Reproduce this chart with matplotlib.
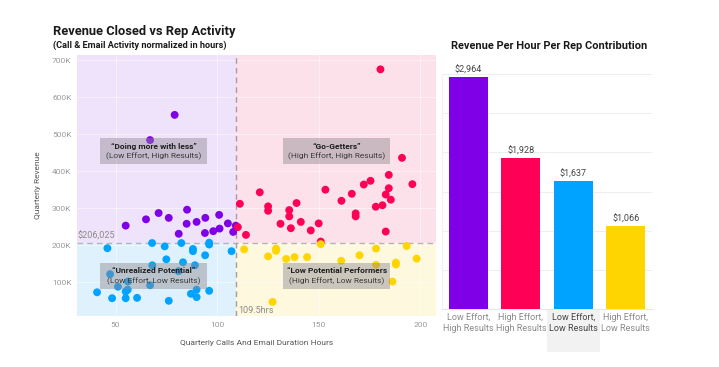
import matplotlib
matplotlib.use("Agg")
import matplotlib.pyplot as plt
import matplotlib.transforms as mtransforms
from matplotlib import font_manager
from matplotlib.patches import Rectangle
from matplotlib.ticker import FuncFormatter, MultipleLocator

# pick a narrow face if one is installed
names = {f.name for f in font_manager.fontManager.ttflist}
FONT = "Liberation Sans Narrow" if "Liberation Sans Narrow" in names else "Roboto"
plt.rcParams["font.family"] = [FONT, "DejaVu Sans"]

# ---- data: scatter, one group per quadrant (hours, revenue in K) ----
purple_x = [55.0, 65.0, 71.2, 76.2, 85.2, 85.0, 81.1, 89.9, 94.2, 94.0, 98.1, 101.0,
            101.2, 105.3, 107.9, 109.2, 79.1, 67.0]
purple_y = [253, 270, 287, 274, 296, 258, 231, 263, 274, 233, 238, 282,
            245, 259, 236, 253, 552, 484]

red_x = [180.4, 191.0, 184.5, 196.1, 175.5, 172.2, 184.5, 183.0, 185.5, 181.4, 178.1,
         166.3, 161.2, 153.3, 168.2, 168.2, 150.0, 146.1, 141.2, 139.1, 135.5, 135.5,
         136.3, 131.2, 125.1, 125.1, 121.0, 111.2, 110.2, 114.2, 183.0, 151.0]
red_y = [675, 436, 390, 365, 374, 364, 354, 337, 323, 308, 304,
         339, 320, 350, 286, 278, 259, 240, 263, 314, 295, 278,
         246, 258, 305, 293, 343, 312, 249, 228, 237, 210]

blue_x = [46.0, 68.0, 74.2, 82.4, 75.0, 83.2, 68.1, 88.1, 88.1, 94.1, 96.1, 96.1,
          89.1, 107.1, 47.3, 40.9, 48.3, 55.0, 55.0, 56.0, 51.2, 56.1, 60.6, 67.0,
          76.2, 87.1, 89.9, 89.9, 96.1, 81.0]
blue_y = [192, 206, 197, 206, 162, 154, 146, 190, 184, 173, 207, 202,
          146, 184, 122, 73, 57, 57, 75, 80, 88, 102, 58, 92,
          50, 69, 60, 80, 77, 130]

yellow_x = [113.3, 125.1, 129.0, 129.0, 134.0, 138.1, 144.3, 151.0, 161.1, 170.1,
            178.2, 178.2, 188.0, 188.0, 193.3, 198.2, 186.3, 127.3]
yellow_y = [189, 170, 191, 185, 163, 168, 168, 203, 158, 173,
            191, 147, 153, 148, 198, 164, 102, 47]

median_hours = 109.5
median_revenue = 206025

# ---- data: bar chart ----
bar_labels = ["Low Effort,\nHigh Results", "High Effort,\nHigh Results",
              "Low Effort,\nLow Results", "High Effort,\nLow Results"]
bar_values = [2964, 1928, 1637, 1066]

quad_names = ["\u201cDoing more with less\u201d", "\u201cGo-Getters\u201d",
              "\u201cUnrealized Potential\u201d", "\u201cLow Potential Performers"]
quad_subs = ["(Low Effort, High Results)", "(High Effort, High Results)",
             "(Low Effort, Low Results)", "(High Effort, Low Results)"]

PURPLE, RED, BLUE, YELLOW = "#7f00e6", "#ff0057", "#00a3ff", "#ffd500"
BG = ["#efe3fc", "#fde1ea", "#dff1fd", "#fdf8de"]

fig = plt.figure(figsize=(7.19, 3.67), dpi=100)
fig.patch.set_facecolor("white")

# ---------------- scatter ----------------
ax = fig.add_axes([0.107, 0.139, 0.499, 0.711])
x0, x1 = 31, 207.6
y0, y1 = 9000, 713600
ax.set_xlim(x0, x1)
ax.set_ylim(y0, y1)

# quadrant backgrounds
ax.add_patch(Rectangle((x0, median_revenue), median_hours - x0, y1 - median_revenue,
                       color=BG[0], zorder=0, lw=0))
ax.add_patch(Rectangle((median_hours, median_revenue), x1 - median_hours, y1 - median_revenue,
                       color=BG[1], zorder=0, lw=0))
ax.add_patch(Rectangle((x0, y0), median_hours - x0, median_revenue - y0,
                       color=BG[2], zorder=0, lw=0))
ax.add_patch(Rectangle((median_hours, y0), x1 - median_hours, median_revenue - y0,
                       color=BG[3], zorder=0, lw=0))

ax.grid(True, color="white", alpha=0.5, lw=0.7, zorder=0.5)
ax.set_axisbelow(True)
for s in ax.spines.values():
    s.set_visible(False)

k = 1000
for xs, ys, c in [(purple_x, purple_y, PURPLE), (red_x, red_y, RED),
                  (blue_x, blue_y, BLUE), (yellow_x, yellow_y, YELLOW)]:
    ax.scatter(xs, [v * k for v in ys], s=32, color=c, edgecolors="none", zorder=3)

ax.axhline(median_revenue, color="#b5b5b5", ls=(0, (4, 3)), lw=1.0, zorder=2)
ax.axvline(median_hours, color="#a89aa0", ls=(0, (4, 3)), lw=1.0, zorder=2)
ax.text(x0 + 0.5, median_revenue + 6000, "$206,025", fontsize=6.5, color="#8a8a8a",
        va="bottom", ha="left", zorder=4)
ax.text(median_hours + 0.8, y0 + 4000, "109.5hrs", fontsize=6.5, color="#8a8a8a",
        va="bottom", ha="left", zorder=4)

# quadrant labels
box_w, box_h = 52.6, 70000
centers = [(68.7, 454000), (158.7, 454000), (68.7, 117000), (158.9, 117000)]
for (cx, cy), nm, sub in zip(centers, quad_names, quad_subs):
    ax.add_patch(Rectangle((cx - box_w / 2, cy - box_h / 2), box_w, box_h,
                           facecolor="#8f8a92", alpha=0.45, lw=0, zorder=5))
    ax.annotate(nm, (cx, cy), xytext=(0, 3.6), textcoords="offset points",
                ha="center", va="center", fontsize=6, fontweight="bold",
                color="#1e1e1e", zorder=6)
    ax.annotate(sub, (cx, cy), xytext=(0, -3.8), textcoords="offset points",
                ha="center", va="center", fontsize=6, color="#3a3a3a", zorder=6)

ax.xaxis.set_major_locator(MultipleLocator(50))
ax.yaxis.set_major_locator(MultipleLocator(100000))
ax.yaxis.set_major_formatter(FuncFormatter(lambda v, p: f"{int(v / 1000)}K"))
ax.tick_params(length=0, labelsize=6, labelcolor="#9a9a9a", pad=4)
ax.set_xlabel("Quarterly Calls And Email Duration Hours", fontsize=6, color="#555555",
              labelpad=9)
ax.set_ylabel("Quarterly Revenue", fontsize=6, color="#555555", labelpad=8)

fig.text(53 / 719, 1 - 32 / 367, "Revenue Closed vs Rep Activity", fontsize=9.3,
         fontweight="bold", color="#1a1a1a", ha="left", va="center")
fig.text(53 / 719, 1 - 45.5 / 367, "(Call & Email Activity normalized in hours)",
         fontsize=6.6, fontweight="bold", color="#1a1a1a", ha="left", va="center")

# ---------------- bars ----------------
bx = fig.add_axes([0.615, 0.158, 0.292, 0.640])
pos = range(len(bar_values))
bars = bx.bar(pos, bar_values, width=0.745, color=[PURPLE, RED, BLUE, YELLOW], zorder=3)
bx.set_xlim(-0.5, 3.5)
bx.set_ylim(0, 3000)
bx.yaxis.set_major_locator(MultipleLocator(500))
bx.grid(axis="y", color="#eeeeee", lw=0.7, zorder=0)
bx.set_yticklabels([])
bx.tick_params(axis="y", length=0)
bx.tick_params(axis="x", length=0, pad=3)
bx.set_xticks(list(pos))
bx.set_xticklabels(bar_labels, fontsize=6.5, color="#8a8a8a", linespacing=1.3)
bx.get_xticklabels()[2].set_color("#444444")
for s in ["top", "right"]:
    bx.spines[s].set_visible(False)
bx.spines["left"].set_color("#f2f2f2")
bx.spines["bottom"].set_color("#e5e5e5")
for b, v in zip(bars, bar_values):
    bx.annotate(f"${v:,}", (b.get_x() + b.get_width() / 2, v), xytext=(0, 1.5),
                textcoords="offset points", ha="center", va="bottom", fontsize=6.5,
                color="#444444")

# hover highlight under the third category
trans = mtransforms.blended_transform_factory(bx.transData, bx.transAxes)
bx.add_patch(Rectangle((1.5, -0.183), 1.0, 0.183, transform=trans, clip_on=False,
                       facecolor="#f2f2f2", lw=0, zorder=0))

fig.text(549 / 719, 1 - 46 / 367, "Revenue Per Hour Per Rep Contribution", fontsize=7.9,
         fontweight="bold", color="#1a1a1a", ha="center", va="center")

fig.savefig("out.png", dpi=100)
